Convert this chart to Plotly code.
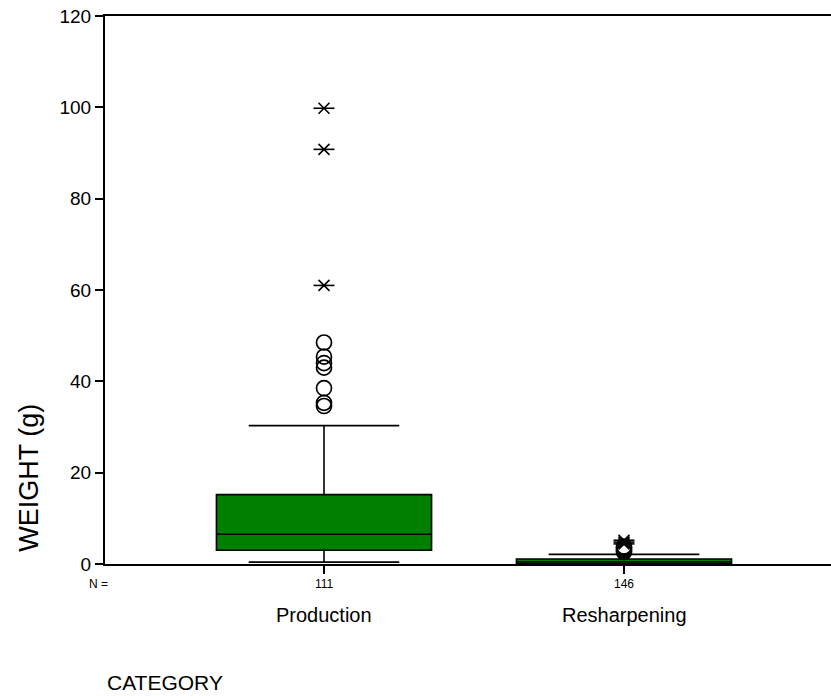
import plotly.graph_objects as go

categories = ["Production", "Resharpening"]
counts = ["111", "146"]
q1 = [3.0, 0.1]
median = [6.5, 0.5]
q3 = [15.2, 1.1]
lower_fence = [0.4, 0.0]
upper_fence = [30.3, 2.1]

# outliers (circles) and extremes (asterisks)
prod_outliers = [48.5, 45.4, 44.0, 43.0, 38.5, 35.3, 34.6]
prod_extremes = [61.0, 90.8, 99.8]
resh_outliers = [2.6, 2.9, 3.2, 3.5, 3.8]
resh_extremes = [4.4, 4.8, 5.2]

y_ticks = [0, 20, 40, 60, 80, 100, 120]

FONT = "Liberation Sans, Arial, sans-serif"

fig = go.Figure()

fig.add_trace(go.Box(
    x=categories, q1=q1, median=median, q3=q3,
    lowerfence=lower_fence, upperfence=upper_fence,
    fillcolor="#008000", line=dict(color="black", width=1.6),
    width=0.717, whiskerwidth=0.70, boxpoints=False, showlegend=False,
    hoverinfo="skip",
))

out_x = [categories[0]] * len(prod_outliers) + [categories[1]] * len(resh_outliers)
out_y = prod_outliers + resh_outliers
ext_x = [categories[0]] * len(prod_extremes) + [categories[1]] * len(resh_extremes)
ext_y = prod_extremes + resh_extremes

fig.add_trace(go.Scatter(
    x=out_x, y=out_y, mode="markers", showlegend=False,
    marker=dict(symbol="circle-open", size=15, color="black", line=dict(width=1.7)),
))
fig.add_trace(go.Scatter(
    x=ext_x, y=ext_y, mode="markers", showlegend=False,
    marker=dict(symbol="line-ew", size=15, color="black", line=dict(width=1.6, color="black")),
))
fig.add_trace(go.Scatter(
    x=ext_x, y=ext_y, mode="markers", showlegend=False,
    marker=dict(symbol="x-thin", size=11, color="black", line=dict(width=1.6, color="black")),
))

annotations = []
for c in categories:
    annotations.append(dict(x=c, xref="x", y=-0.093, yref="paper", text=c,
                            showarrow=False, font=dict(size=20, color="black", family=FONT),
                            xanchor="center", yanchor="middle"))
annotations.append(dict(x=-0.0096, xref="paper", y=-0.037, yref="paper", text="N =",
                        showarrow=False, font=dict(size=12, color="black", family=FONT),
                        xanchor="center", yanchor="middle"))
annotations.append(dict(x=0.0, xref="paper", y=-0.217, yref="paper", text="CATEGORY",
                        showarrow=False, font=dict(size=21, color="black", family=FONT),
                        xanchor="left", yanchor="middle"))
annotations.append(dict(x=-0.105, xref="paper", y=0.157, yref="paper", text="WEIGHT (g)",
                        textangle=-90, showarrow=False,
                        font=dict(size=27, color="black", family=FONT),
                        xanchor="center", yanchor="middle"))

fig.update_layout(
    width=831, height=696,
    margin=dict(l=105, r=0, t=16, b=132),
    paper_bgcolor="white", plot_bgcolor="white",
    font=dict(family=FONT, color="black"),
    annotations=annotations,
    xaxis=dict(
        type="category", categoryarray=categories, range=[-0.73, 1.69],
        tickvals=categories, ticktext=counts, tickfont=dict(size=12),
        ticks="outside", ticklen=8, tickwidth=2, tickcolor="black",
        showline=True, linecolor="black", linewidth=2, mirror=True,
        showgrid=False, zeroline=False,
    ),
    yaxis=dict(
        range=[0, 120], tickvals=y_ticks, tickfont=dict(size=19),
        ticks="outside", ticklen=8, tickwidth=2, tickcolor="black",
        showline=True, linecolor="black", linewidth=2,
        showgrid=False, zeroline=False,
    ),
)

fig.write_html("out.html")
